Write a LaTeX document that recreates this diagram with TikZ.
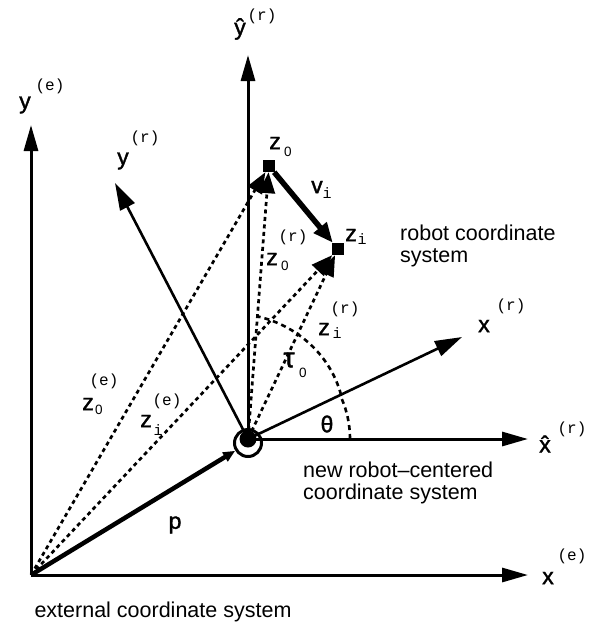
\documentclass[tikz,border=0pt]{standalone}
\usepackage{fontspec}
\setmainfont{Liberation Sans}
\newfontfamily\monofont{Liberation Mono}
\newfontfamily\boldishfont[FakeBold=1.5]{Liberation Sans}
\usetikzlibrary{arrows.meta}
\begin{document}
\begin{tikzpicture}[x=1pt,y=-1pt,
  axisline/.style={line width=3pt,-{Triangle[length=26pt,width=14pt]}},
  raxis/.style={line width=2.6pt,-{Triangle[length=27pt,width=16pt]}},
  dvec/.style={line width=2.7pt,dash pattern=on 4pt off 3.5pt,-{Triangle[length=21pt,width=16pt]}},
  darc/.style={line width=2.6pt,dash pattern=on 5pt off 4pt},
  thickvec/.style={line width=5.5pt,-{Triangle[length=20pt,width=16pt]}},
  pvec/.style={line width=4.5pt,-{Triangle[length=12pt,width=10pt]}},
  pt/.style={fill,minimum size=12pt,inner sep=0pt},
  big/.style={inner sep=0pt,font=\boldishfont\fontsize{23}{23}\selectfont},
  sup/.style={inner sep=0pt,font=\monofont\fontsize{16}{16}\selectfont},
  subn/.style={inner sep=0pt,font=\fontsize{13.5}{13.5}\selectfont},
  subi/.style={inner sep=0pt,font=\monofont\fontsize{15}{15}\selectfont},
  txt/.style={inner sep=0pt,align=left,font=\fontsize{21.5}{22}\selectfont}
]
\useasboundingbox (0,0) rectangle (603,625);
% points
\coordinate (E) at (31,575);
\coordinate (xeTip) at (528,575);
\coordinate (yeTip) at (31,125);
\coordinate (yhTip) at (248,55);
\coordinate (xhTip) at (528,439);
\coordinate (xrTip) at (462,337);
\coordinate (yrTip) at (115,183);
\node[circle,draw,line width=3pt,minimum size=27pt,inner sep=0pt] (R) at (248,443) {};
\node[circle,fill,minimum size=17pt,inner sep=0pt] (Rc) at (248,439) {};
\node[pt] (z0) at (269,166) {};
\node[pt] (zi) at (338,249) {};
% external axes
\draw[axisline] (E) -- (xeTip);
\draw[axisline] (E) -- (yeTip);
% robot-centered axes
\draw[axisline] (Rc.center) -- (yhTip);
\draw[axisline] (Rc.center) -- (xhTip);
\draw[raxis] (Rc.center) -- (xrTip);
\draw[raxis] (Rc.center) -- (yrTip);
% dashed vectors
\draw[dvec] (E) -- (z0);
\draw[dvec] (E) -- (zi);
\draw[dvec] (Rc) -- (z0);
\draw[dvec] (Rc) -- (zi);
% angle arcs
\draw[darc] plot[domain=0:25.5,samples=15] ({248+102*cos(\x)},{439-102*sin(\x)});
\draw[darc] plot[domain=25.5:85.6,samples=40] ({248+(103+20*(\x-25.5)/60)*cos(\x)},{439-(103+20*(\x-25.5)/60)*sin(\x)});
% p and v_i
\draw[pvec] (E) -- (R);
\draw[thickvec] (z0) -- (zi);
% labels
\node[big] (lye) at (25,105) {y};
\node[sup] (lyes) at (50,86) {(e)};
\node[big] (lyh) at (240,29) {ŷ};
\node[sup] (lyhs) at (262,16) {(r)};
\node[big] (lyr) at (123,161) {y};
\node[sup] (lyrs) at (145,138) {(r)};
\node[big] (lz0) at (275,143) {z};
\node[subn] (lz0s) at (288,152) {0};
\node[big] (lv) at (317,187) {v};
\node[subi] (lvs) at (327,193) {i};
\node[big] (lzi) at (351,235) {z};
\node[subi] (lzis) at (362,239) {i};
\node[txt,anchor=west] (lrobot) at (400,246) {robot coordinate\\system};
\node[sup] (lz0rs) at (293,237) {(r)};
\node[big] (lz0r) at (272,259) {z};
\node[subn] (lz0rn) at (285,266) {0};
\node[sup] (lzirs) at (345,309) {(r)};
\node[big] (lzir) at (324,329) {z};
\node[subi] (lziri) at (337,333) {i};
\node[big] (lxr) at (484,326) {x};
\node[sup] (lxrs) at (511,306) {(r)};
\node[big,font=\boldishfont\fontsize{28}{28}\selectfont] (ltau) at (289,360) {τ};
\node[subn] (ltaus) at (303,373) {0};
\node[big] (ltheta) at (327,424) {θ};
\node[big] (lxh) at (545,444) {\^{x}};
\node[sup] (lxhs) at (572,429) {(r)};
\node[txt,anchor=west] (lnew) at (303,483) {new robot–centered\\coordinate system};
\node[big] (lxe) at (548,578) {x};
\node[sup] (lxes) at (572,556) {(e)};
\node[sup] (lz0es) at (104,381) {(e)};
\node[big] (lz0e) at (88,404) {z};
\node[subn] (lz0en) at (99,410) {0};
\node[sup] (lzies) at (167,401) {(e)};
\node[big] (lzie) at (146,421) {z};
\node[subi] (lziei) at (158,430) {i};
\node[big] (lp) at (175,525) {p};
\node[txt] (lext) at (163,612) {external coordinate system};
\end{tikzpicture}
\end{document}
